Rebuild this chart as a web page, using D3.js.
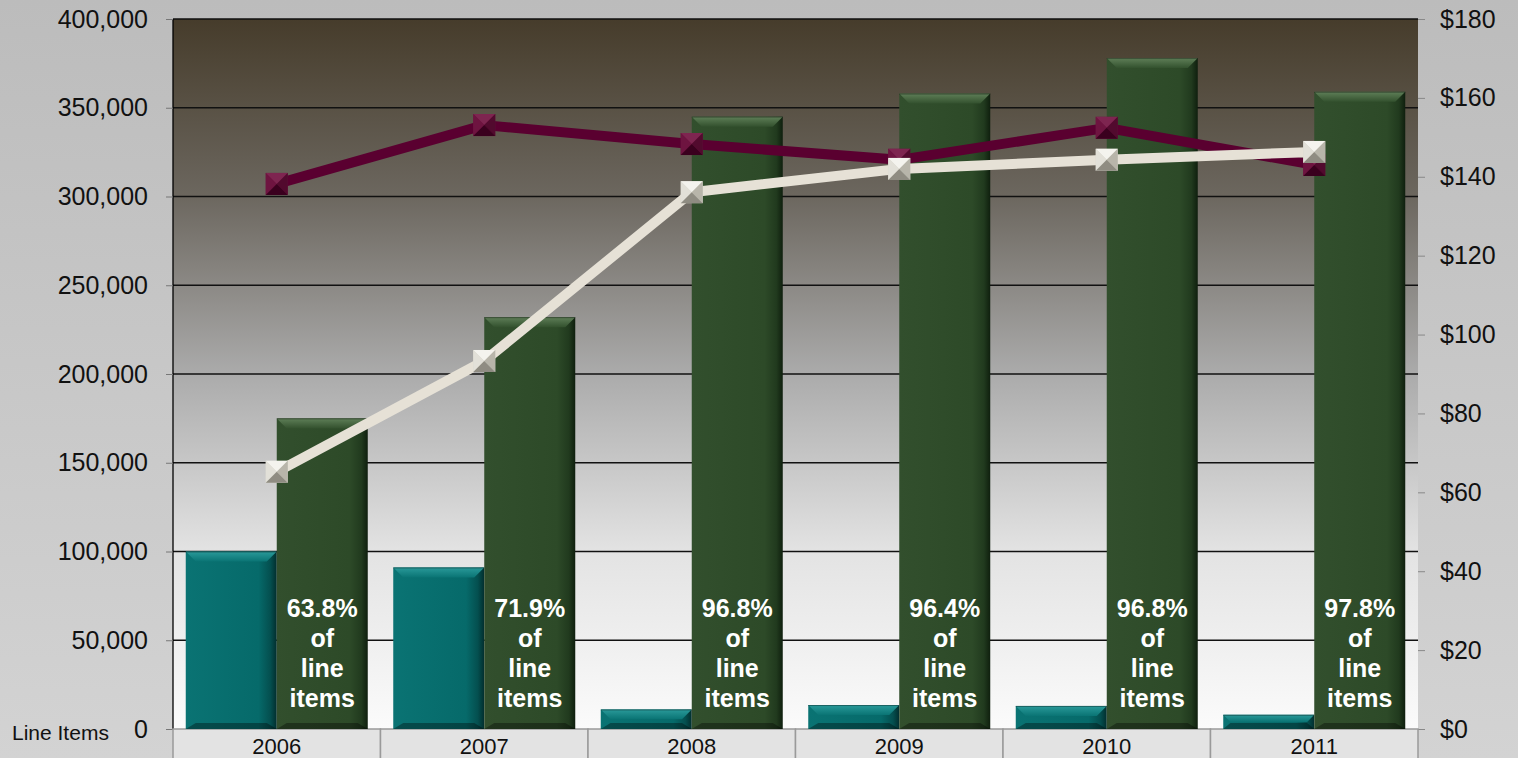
<!DOCTYPE html>
<html><head><meta charset="utf-8">
<script src="https://cdn.jsdelivr.net/npm/d3@7/dist/d3.min.js"></script>
<style>html,body{margin:0;padding:0;overflow:hidden;background:#c4c4c4}</style>
</head><body><svg id="c" width="1518" height="758"></svg>
<script>
const years = ["2006","2007","2008","2009","2010","2011"];
const tealValues = [100000, 91000, 11000, 13500, 13000, 8000];
const greenValues = [175000, 232000, 345000, 358000, 378000, 359000];
const pctLabels = ["63.8%","71.9%","96.8%","96.4%","96.8%","97.8%"];
const maroonValues = [138.2, 153.1, 148.3, 144.3, 152.4, 143.0];
const lightValues = [65.2, 93.3, 136.1, 142.0, 144.3, 146.3];
const leftTicks = [0,50000,100000,150000,200000,250000,300000,350000,400000];
const rightTicks = [0,20,40,60,80,100,120,140,160,180];

const svg = d3.select("#c");
const W=1518,H=758;
const L=173,R=1418,T=19,B=729;
const font = "'Liberation Sans', Arial, sans-serif";
const defs = svg.append("defs");

function lg(id, stops, x2, y2){
  const g = defs.append("linearGradient").attr("id",id).attr("x1",0).attr("y1",0).attr("x2",x2).attr("y2",y2);
  stops.forEach(s=>g.append("stop").attr("offset",s[0]).attr("stop-color",s[1]));
}
lg("outer",[[0,"#bcbcbc"],[1,"#d3d3d3"]],0,1);
lg("plot",[[0,"#463c2b"],[0.25,"#6c675f"],[0.5,"#ababab"],[0.75,"#e3e3e3"],[1,"#fbfbfb"]],0,1);
lg("teal",[[0,"#0a7373"],[0.8,"#066a6a"],[0.93,"#044f4f"],[1,"#022e2e"]],1,0);
lg("green",[[0,"#324f2d"],[0.8,"#2d4a28"],[0.93,"#213a1e"],[1,"#0f1f0e"]],1,0);
lg("tealTop",[[0,"#2a9a9a"],[1,"#0a7474"]],0,1);
lg("greenTop",[[0,"#5f7f58"],[1,"#33512e"]],0,1);

svg.append("rect").attr("width",W).attr("height",H).attr("fill","url(#outer)");
svg.append("rect").attr("x",L).attr("y",T).attr("width",R-L).attr("height",B-T).attr("fill","url(#plot)");

const x = d3.scaleBand().domain(years).range([L,R]);
const yL = d3.scaleLinear().domain([0,400000]).range([B,T]);
const yR = d3.scaleLinear().domain([0,180]).range([B,T]);

// gridlines
svg.append("g").selectAll("line").data(leftTicks.slice(1)).join("line")
  .attr("x1",L).attr("x2",R).attr("y1",d=>yL(d)).attr("y2",d=>yL(d))
  .attr("stroke","#111").attr("stroke-width",1.3);

// left axis
const axL = svg.append("g").attr("transform",`translate(${L},0)`)
  .call(d3.axisLeft(yL).tickValues(leftTicks).tickFormat(d3.format(",")).tickSize(7).tickPadding(18));
axL.select(".domain").attr("stroke","#000").attr("stroke-width",1.3).attr("d",`M0,${T}V${B}`);
axL.selectAll(".tick line").attr("stroke","#777");
axL.selectAll("text").attr("font-family",font).attr("font-size",25).attr("fill","#111");

// right axis
const axR = svg.append("g").attr("transform",`translate(${R},0)`)
  .call(d3.axisRight(yR).tickValues(rightTicks).tickFormat(d=>"$"+d).tickSize(7).tickPadding(15));
axR.select(".domain").remove();
axR.selectAll(".tick line").attr("stroke","#888");
axR.selectAll("text").attr("font-family",font).attr("font-size",25).attr("fill","#111");

// category boxes
const cat = svg.append("g");
cat.selectAll("rect").data(years).join("rect")
  .attr("x",d=>x(d)).attr("y",B).attr("width",x.bandwidth()).attr("height",H-B+2)
  .attr("fill","#e3e3e3").attr("stroke","#9a9a9a").attr("stroke-width",1.5);
cat.selectAll("text").data(years).join("text")
  .attr("x",d=>x(d)+x.bandwidth()/2).attr("y",754).attr("text-anchor","middle")
  .attr("font-family",font).attr("font-size",22).attr("fill","#111").text(d=>d);

svg.append("text").attr("x",12).attr("y",740).attr("font-family",font).attr("font-size",21).attr("fill","#111").text("Line Items");

// bars
const bw = 91;
function drawBars(vals, key){
  const g = svg.append("g");
  years.forEach((yr,i)=>{
    const bx = x(yr)+x.bandwidth()/2 + (key==="teal"?-bw:0);
    const by = yL(vals[i]);
    const h = B-by;
    g.append("rect").attr("x",bx).attr("y",by).attr("width",bw).attr("height",h).attr("fill",`url(#${key})`);
    const bev = Math.min(10,h/2);
    g.append("path").attr("d",`M${bx},${by}H${bx+bw}L${bx+bw-bev},${by+bev}H${bx+bev}Z`).attr("fill",`url(#${key}Top)`);
    g.append("path").attr("d",`M${bx},${by+h}H${bx+bw}L${bx+bw-bev},${by+h-Math.min(6,bev)}H${bx+bev}Z`).attr("fill","rgba(0,0,0,0.35)");
    g.append("line").attr("x1",bx).attr("x2",bx+bw).attr("y1",by+0.5).attr("y2",by+0.5).attr("stroke","rgba(0,0,0,0.35)");
  });
}
drawBars(tealValues,"teal");
drawBars(greenValues,"green");

// bar labels
const lab = svg.append("g");
years.forEach((yr,i)=>{
  const cx = x(yr)+x.bandwidth()/2 + bw/2;
  [pctLabels[i],"of","line","items"].forEach((t,j)=>{
    lab.append("text").attr("x",cx).attr("y",617+j*30).attr("text-anchor","middle")
      .attr("font-family",font).attr("font-weight","bold").attr("font-size",25).attr("fill","#fff").text(t);
  });
});

// lines
const cxs = years.map(y=>x(y)+x.bandwidth()/2);
function drawLine(vals,color,mk){
  const line = d3.line().x((d,i)=>cxs[i]).y(d=>yR(d));
  svg.append("path").datum(vals).attr("d",line).attr("fill","none").attr("stroke",color).attr("stroke-width",10).attr("stroke-linejoin","round");
  const s=22;
  const g = svg.append("g");
  vals.forEach((v,i)=>{
    const cx=cxs[i], cy=yR(v), h=s/2;
    const x0=cx-h,x1=cx+h,y0=cy-h,y1=cy+h;
    g.append("rect").attr("x",x0).attr("y",y0).attr("width",s).attr("height",s).attr("fill",mk[0]);
    g.append("path").attr("d",`M${x0},${y0}L${x1},${y0}L${cx},${cy}Z`).attr("fill",mk[1]);
    g.append("path").attr("d",`M${x0},${y0}L${x0},${y1}L${cx},${cy}Z`).attr("fill",mk[2]);
    g.append("path").attr("d",`M${x1},${y0}L${x1},${y1}L${cx},${cy}Z`).attr("fill",mk[3]);
    g.append("path").attr("d",`M${x0},${y1}L${x1},${y1}L${cx},${cy}Z`).attr("fill",mk[4]);
  });
}
drawLine(maroonValues,"#5a0030",["#6e1440","#7e2550","#6e1440","#520a2e","#3a001e"]);
drawLine(lightValues,"#e6e1d6",["#d8d6cc","#f4f3ee","#e2e0d8","#b8b5aa","#8f8c82"]);
</script></body></html>
